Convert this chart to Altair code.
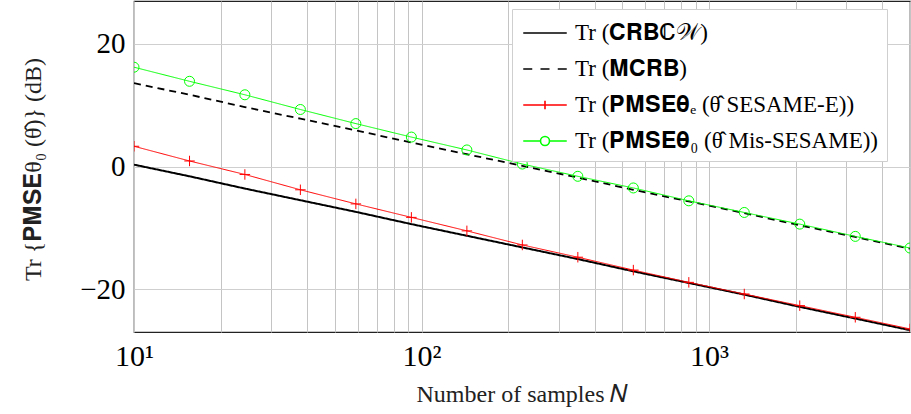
import altair as alt
import pandas as pd

# ---- data ----
N = [10, 15.6, 24.3, 37.9, 59.1, 92.2, 143.8, 224.2, 349.7, 545.4, 850.5, 1326, 2068, 3226, 5000]
crb = [0.3, -1.6, -3.6, -5.5, -7.4, -9.4, -11.3, -13.2, -15.1, -17.1, -19.0, -20.9, -22.9, -24.8, -26.7]
mcrb = [13.6, 11.7, 9.7, 7.8, 5.9, 3.9, 2.0, 0.1, -1.8, -3.8, -5.7, -7.6, -9.6, -11.5, -13.4]
pmse_e = [3.3, 0.9, -1.3, -3.8, -6.1, -8.3, -10.5, -12.8, -14.8, -16.9, -18.9, -20.8, -22.7, -24.6, -26.5]
pmse_0 = [16.2, 13.9, 11.7, 9.3, 7.0, 4.8, 2.7, 0.4, -1.6, -3.5, -5.6, -7.5, -9.4, -11.4, -13.3]

series_names = [
    "Tr (𝐂𝐑𝐁ℂ𝒲)",
    "Tr (𝐌𝐂𝐑𝐁)",
    "Tr (𝐏𝐌𝐒𝐄𝛉ₑ (θ̂ SESAME-E))",
    "Tr (𝐏𝐌𝐒𝐄𝛉₀ (θ̂ Mis-SESAME))",
]
series_values = [crb, mcrb, pmse_e, pmse_0]
series_colors = ["#000000", "#000000", "#ff0000", "#00ff00"]

x_grid_values = [10, 20, 30, 40, 50, 60, 70, 80, 90, 100, 200, 300, 400, 500, 600, 700,
                 800, 900, 1000, 2000, 3000, 4000, 5000]
y_tick_values = [-20, 0, 20]

rows = []
for name, vals in zip(series_names, series_values):
    for n, v in zip(N, vals):
        rows.append({"N": n, "val": v, "series": name})
df = pd.DataFrame(rows)

FONT = "Liberation Serif"

x_enc = alt.X(
    "N:Q",
    scale=alt.Scale(type="log", domain=[10, 5000], nice=False),
    axis=alt.Axis(
        values=x_grid_values,
        labelExpr="datum.value == 10 ? '10¹' : datum.value == 100 ? '10²' : datum.value == 1000 ? '10³' : ''",
        title="Number of samples 𝑁",
        titleFont=FONT, titleFontSize=24, titleFontWeight="normal", titleColor="#222",
        titleY=62, titleBaseline="middle",
        labelFont=FONT, labelFontSize=30, labelColor="#000", labelPadding=9,
        labelOverlap=False, labelFlush=False,
        tickSize=0, domain=False,
        grid=True, gridColor="#c4c4c4", gridWidth=1,
    ),
)
y_enc = alt.Y(
    "val:Q",
    scale=alt.Scale(domain=[-27, 27], nice=False),
    axis=alt.Axis(
        values=y_tick_values,
        labelExpr="datum.value < 0 ? '−' + format(-datum.value, 'd') : format(datum.value, 'd')",
        title="Tr {𝐏𝐌𝐒𝐄θ₀ (θ̂)} (dB)",
        titleFont=FONT, titleFontSize=24, titleFontWeight="normal", titleColor="#222",
        titleX=-101, titleY=168, titleAngle=-90, titleAlign="center", titleBaseline="middle",
        labelFont=FONT, labelFontSize=29, labelColor="#000", labelPadding=9,
        tickSize=0, domain=False,
        grid=True, gridColor="#cfcfcf", gridWidth=1,
    ),
)

line_styles = [
    dict(strokeWidth=2.0, strokeDash=[1, 0]),
    dict(strokeWidth=1.8, strokeDash=[7, 5]),
    dict(strokeWidth=1.0, strokeDash=[1, 0]),
    dict(strokeWidth=1.0, strokeDash=[1, 0]),
]

layers = []
for i, (name, col) in enumerate(zip(series_names, series_colors)):
    enc_x = x_enc if i == 0 else alt.X("N:Q")
    enc_y = y_enc if i == 0 else alt.Y("val:Q")
    layers.append(
        alt.Chart(df).transform_filter(alt.datum.series == name)
        .mark_line(color=col, clip=True, **line_styles[i])
        .encode(x=enc_x, y=enc_y)
    )

plus_path = "M-1,0H1M0,-1V1"
red_pts = alt.Chart(df).transform_filter(
    alt.datum.series == series_names[2]
).mark_point(shape=plus_path, filled=False, size=110, color="#ff0000", strokeWidth=1.0, opacity=1, clip=True).encode(
    x="N:Q", y="val:Q"
)
green_pts = alt.Chart(df).transform_filter(
    alt.datum.series == series_names[3]
).mark_point(shape="circle", filled=False, size=100, color="#00ff00", strokeWidth=1.0, opacity=1, clip=True).encode(
    x="N:Q", y="val:Q"
)

# legend-only layer (no marks drawn)
legend_shapes = [
    "M-1.45,0H1.45",
    "M-1.45,0H-0.85M-0.3,0H0.3M0.85,0H1.45",
    "M-1.45,0H1.45M0,-0.28V0.28",
    "M-1.45,0H-0.3M0.3,0H1.45M-0.3,0A0.3,0.3 0 1,0 0.3,0A0.3,0.3 0 1,0 -0.3,0",
]
legend_cfg = dict(
    title=None, orient="none", legendX=378, legendY=8,
    labelFont=FONT, labelFontSize=23, labelColor="#000", labelLimit=500,
    symbolSize=900, symbolStrokeWidth=1.6, symbolFillColor="transparent",
    symbolOffset=9, labelOffset=14, rowPadding=8, padding=8,
    strokeColor="#cfcfcf", fillColor="#ffffff",
)
legend_layer = alt.Chart(df).transform_filter("false").mark_point(filled=False, opacity=1).encode(
    x="N:Q",
    y="val:Q",
    color=alt.Color("series:N", scale=alt.Scale(domain=series_names, range=series_colors),
                    legend=alt.Legend(**legend_cfg)),
    shape=alt.Shape("series:N", scale=alt.Scale(domain=series_names, range=legend_shapes),
                    legend=alt.Legend(**legend_cfg)),
)

chart = alt.layer(*layers, red_pts, green_pts, legend_layer).properties(
    width=776,
    height=331,
    background="white",
    autosize=alt.AutoSizeParams(type="none"),
    padding={"left": 134, "top": 1, "right": 1, "bottom": 82},
).configure_view(
    stroke="#222", strokeWidth=1.2
)

chart.save("out.html", embed_options={"renderer": "svg", "actions": False})
